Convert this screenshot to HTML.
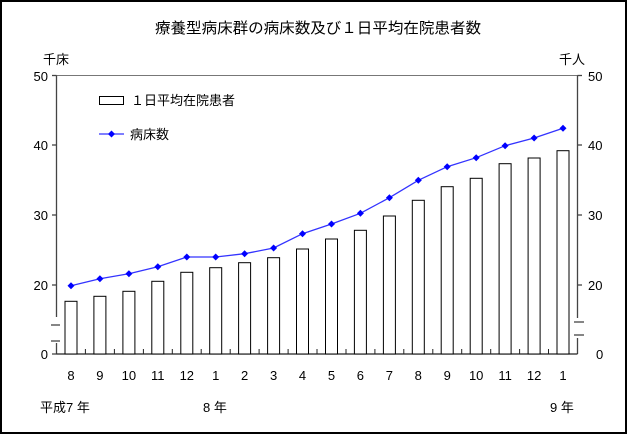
<!DOCTYPE html>
<html><head><meta charset="utf-8"><style>
html,body{margin:0;padding:0;background:#fff;}
svg{display:block;font-family:"Liberation Sans","Noto Sans CJK JP",sans-serif;}
</style></head><body>
<svg width="630" height="436" viewBox="0 0 630 436" xmlns="http://www.w3.org/2000/svg">
<rect x="0" y="0" width="630" height="436" fill="#fff"/>
<rect x="1" y="1" width="625" height="432" fill="none" stroke="#000" stroke-width="2"/>
<text x="318" y="33" font-size="15" text-anchor="middle" textLength="326" lengthAdjust="spacingAndGlyphs">療養型病床群の病床数及び１日平均在院患者数</text>
<text x="43" y="64" font-size="13">千床</text>
<text x="559" y="64" font-size="13">千人</text>
<g font-size="13" fill="#000">
<text x="48" y="81" text-anchor="end">50</text>
<text x="48" y="150" text-anchor="end">40</text>
<text x="48" y="220" text-anchor="end">30</text>
<text x="48" y="290" text-anchor="end">20</text>
<text x="48" y="359" text-anchor="end">0</text>
<text x="588" y="81">50</text>
<text x="588" y="150">40</text>
<text x="588" y="220">30</text>
<text x="588" y="290">20</text>
<text x="596" y="359">0</text>
</g>
<line x1="56.5" y1="75.5" x2="577.5" y2="75.5" stroke="#777" stroke-width="1"/>
<g stroke="#444" stroke-width="1.3" fill="none">
<line x1="56.5" y1="75.5" x2="56.5" y2="317"/>
<line x1="56.5" y1="343" x2="56.5" y2="354"/>
<line x1="51" y1="325" x2="60" y2="325"/>
<line x1="51" y1="341" x2="60" y2="341"/>
<line x1="52" y1="75.5" x2="56.5" y2="75.5"/>
<line x1="52" y1="145" x2="56.5" y2="145"/>
<line x1="52" y1="215" x2="56.5" y2="215"/>
<line x1="52" y1="285" x2="56.5" y2="285"/>
<line x1="52" y1="354" x2="56.5" y2="354"/>
<line x1="577.5" y1="75.5" x2="577.5" y2="318"/>
<line x1="577.5" y1="338" x2="577.5" y2="354"/>
<line x1="574" y1="322" x2="584" y2="322"/>
<line x1="574" y1="335" x2="584" y2="335"/>
<line x1="577.5" y1="75.5" x2="582" y2="75.5"/>
<line x1="577.5" y1="145" x2="582" y2="145"/>
<line x1="577.5" y1="215" x2="582" y2="215"/>
<line x1="577.5" y1="285" x2="582" y2="285"/>
<line x1="56.5" y1="354" x2="577.5" y2="354" stroke="#222"/>
</g>
<g fill="#fff" stroke="#000" stroke-width="1">
<rect x="65" y="301.3" width="12" height="52.7"/>
<rect x="93.9" y="296.3" width="12" height="57.7"/>
<rect x="122.9" y="291.3" width="12" height="62.7"/>
<rect x="151.8" y="281.3" width="12" height="72.7"/>
<rect x="180.8" y="272.3" width="12" height="81.7"/>
<rect x="209.7" y="267.7" width="12" height="86.3"/>
<rect x="238.6" y="262.7" width="12" height="91.3"/>
<rect x="267.6" y="257.7" width="12" height="96.3"/>
<rect x="296.5" y="249" width="12" height="105"/>
<rect x="325.5" y="239" width="12" height="115"/>
<rect x="354.4" y="230.3" width="12" height="123.7"/>
<rect x="383.4" y="216" width="12" height="138"/>
<rect x="412.3" y="200.3" width="12" height="153.7"/>
<rect x="441.2" y="186.7" width="12" height="167.3"/>
<rect x="470.2" y="178.3" width="12" height="175.7"/>
<rect x="499.1" y="163.7" width="12" height="190.3"/>
<rect x="528.1" y="158" width="12" height="196"/>
<rect x="557" y="150.7" width="12" height="203.3"/>
</g>
<g stroke="#222" stroke-width="1">
<line x1="85.4" y1="349" x2="85.4" y2="354"/><line x1="114.4" y1="349" x2="114.4" y2="354"/><line x1="143.4" y1="349" x2="143.4" y2="354"/><line x1="172.3" y1="349" x2="172.3" y2="354"/><line x1="201.2" y1="349" x2="201.2" y2="354"/><line x1="230.2" y1="349" x2="230.2" y2="354"/><line x1="259.1" y1="349" x2="259.1" y2="354"/><line x1="288.1" y1="349" x2="288.1" y2="354"/><line x1="317" y1="349" x2="317" y2="354"/><line x1="346" y1="349" x2="346" y2="354"/><line x1="374.9" y1="349" x2="374.9" y2="354"/><line x1="403.8" y1="349" x2="403.8" y2="354"/><line x1="432.8" y1="349" x2="432.8" y2="354"/><line x1="461.7" y1="349" x2="461.7" y2="354"/><line x1="490.7" y1="349" x2="490.7" y2="354"/><line x1="519.6" y1="349" x2="519.6" y2="354"/><line x1="548.5" y1="349" x2="548.5" y2="354"/>
</g>
<polyline fill="none" stroke="#33f" stroke-width="1.3" points="71,285.7 99.9,278.7 128.9,273.7 157.8,266.7 186.8,257 215.7,257 244.6,253.7 273.6,248 302.5,233.7 331.5,224 360.4,213.3 389.4,197.7 418.3,180.3 447.2,166.7 476.2,157.7 505.1,145.7 534.1,138 563,128.3"/>
<g fill="#00f">
<path d="M71 282.2l3.5 3.5-3.5 3.5-3.5-3.5z"/>
<path d="M99.9 275.2l3.5 3.5-3.5 3.5-3.5-3.5z"/>
<path d="M128.9 270.2l3.5 3.5-3.5 3.5-3.5-3.5z"/>
<path d="M157.8 263.2l3.5 3.5-3.5 3.5-3.5-3.5z"/>
<path d="M186.8 253.5l3.5 3.5-3.5 3.5-3.5-3.5z"/>
<path d="M215.7 253.5l3.5 3.5-3.5 3.5-3.5-3.5z"/>
<path d="M244.6 250.2l3.5 3.5-3.5 3.5-3.5-3.5z"/>
<path d="M273.6 244.5l3.5 3.5-3.5 3.5-3.5-3.5z"/>
<path d="M302.5 230.2l3.5 3.5-3.5 3.5-3.5-3.5z"/>
<path d="M331.5 220.5l3.5 3.5-3.5 3.5-3.5-3.5z"/>
<path d="M360.4 209.8l3.5 3.5-3.5 3.5-3.5-3.5z"/>
<path d="M389.4 194.2l3.5 3.5-3.5 3.5-3.5-3.5z"/>
<path d="M418.3 176.8l3.5 3.5-3.5 3.5-3.5-3.5z"/>
<path d="M447.2 163.2l3.5 3.5-3.5 3.5-3.5-3.5z"/>
<path d="M476.2 154.2l3.5 3.5-3.5 3.5-3.5-3.5z"/>
<path d="M505.1 142.2l3.5 3.5-3.5 3.5-3.5-3.5z"/>
<path d="M534.1 134.5l3.5 3.5-3.5 3.5-3.5-3.5z"/>
<path d="M563 124.8l3.5 3.5-3.5 3.5-3.5-3.5z"/>
</g>
<g font-size="13" text-anchor="middle">
<text x="71" y="380">8</text><text x="99.9" y="380">9</text><text x="128.9" y="380">10</text><text x="157.8" y="380">11</text><text x="186.8" y="380">12</text><text x="215.7" y="380">1</text><text x="244.6" y="380">2</text><text x="273.6" y="380">3</text><text x="302.5" y="380">4</text><text x="331.5" y="380">5</text><text x="360.4" y="380">6</text><text x="389.4" y="380">7</text><text x="418.3" y="380">8</text><text x="447.2" y="380">9</text><text x="476.2" y="380">10</text><text x="505.1" y="380">11</text><text x="534.1" y="380">12</text><text x="563" y="380">1</text>
</g>
<text x="40" y="412" font-size="13">平成7 年</text>
<text x="203" y="412" font-size="13">8 年</text>
<text x="550" y="412" font-size="13">9 年</text>
<rect x="99.5" y="96.5" width="24" height="8" fill="#fff" stroke="#000"/>
<text x="131" y="105" font-size="13">１日平均在院患者</text>
<line x1="99" y1="134" x2="124" y2="134" stroke="#33f" stroke-width="1.3"/>
<path d="M111.5 130.5 L115 134 L111.5 137.5 L108 134Z" fill="#00f"/>
<text x="130" y="139" font-size="13">病床数</text>
</svg>
</body></html>
